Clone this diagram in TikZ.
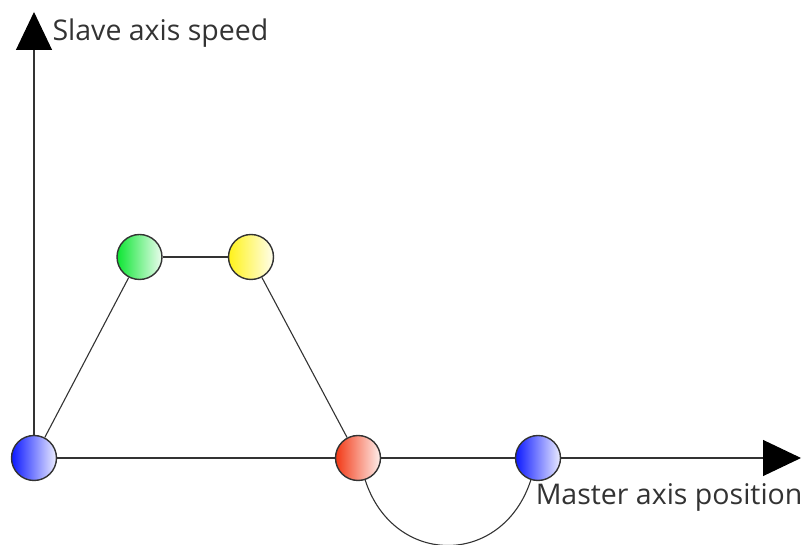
\documentclass[tikz,border=0pt]{standalone}
\usepackage{fontspec}
\setmainfont{Open Sans}
\usetikzlibrary{arrows.meta}
\definecolor{cmInk}{rgb}{0.20,0.20,0.20}
\definecolor{cmBlue}{rgb}{0.05,0.10,1.00}
\definecolor{cmGreen}{rgb}{0.05,0.90,0.20}
\definecolor{cmYellow}{rgb}{1.00,0.95,0.10}
\definecolor{cmRed}{rgb}{0.95,0.22,0.08}
\begin{document}
\begin{tikzpicture}[x=1pt, y=1pt, ink/.style={line width=1.1pt, cmInk}, axis/.style={line width=1.1pt, cmInk, -{Triangle[length=38pt, width=36pt, black]}}, ball/.style={circle, draw=cmInk, line width=1.4pt, inner sep=0pt, minimum size=45pt, left color=#1, right color=#1!8}, lab/.style={font=\fontsize{28.5}{32}\selectfont, text=cmInk}]
\useasboundingbox (0,0) rectangle (803,545);
% the cam points
\node[ball=cmBlue] (start) at (34,87) {};
\node[ball=cmGreen] (rise) at (139.5,288) {};
\node[ball=cmYellow] (dwell) at (251,288) {};
\node[ball=cmRed] (fall) at (358,87) {};
\node[ball=cmBlue] (stop) at (538,87) {};
\coordinate (ytip) at (34,533);
\coordinate (xtip) at (801,87);
% profile
\draw[ink] (start) -- (rise);
\draw[ink] (rise) -- (dwell);
\draw[ink] (dwell) -- (fall);
\draw[ink] (start) -- (fall);
\draw[ink] (fall) -- (stop);
\draw[ink] (fall) to[out=-72, in=-108, looseness=1.42] (stop);
% axes
\draw[axis] (start) -- (ytip);
\draw[axis] (stop) -- (xtip);
\node[lab, anchor=west] (ylab) at (49,512) {Slave axis speed};
\node[lab, anchor=east] (xlab) at (806,48) {Master axis position};
\end{tikzpicture}
\end{document}
